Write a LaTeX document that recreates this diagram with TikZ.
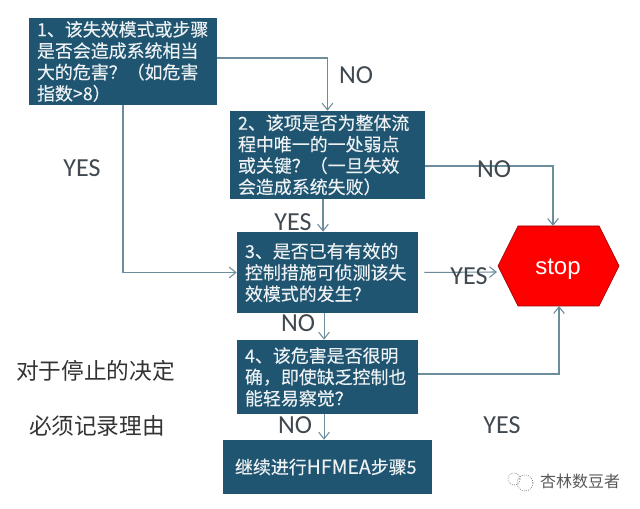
\documentclass[tikz,border=0pt]{standalone}
\usepackage{fontspec}
\setmainfont{Noto Sans CJK SC}
\newfontfamily\boxfont[FakeBold=0.25]{Noto Sans CJK SC}
\newfontfamily\latinlabel{Carlito}
\newfontfamily\stopfont{Liberation Sans}
\usetikzlibrary{arrows.meta}
\definecolor{boxblue}{HTML}{1F5570}
\definecolor{linkc}{HTML}{6C8D9C}
\definecolor{labelc}{HTML}{404850}
\tikzset{
  every node/.style={inner sep=0pt},
  stepbox/.style={fill=boxblue,text=white!92!boxblue,align=left,anchor=center,
    font=\boxfont\fontsize{13.45}{16}\selectfont,inner xsep=6pt},
  link/.style={draw=linkc,line width=0.8pt,-{Straight Barb[length=5pt,width=8pt]}},
  lab/.style={text=labelc,font=\latinlabel\fontsize{19.5}{20}\selectfont},
  note/.style={text=black!80,font=\fontsize{17}{18}\selectfont},
}
\begin{document}
\begin{tikzpicture}[x=0.75pt,y=-0.75pt]
\useasboundingbox[fill=white] (0,0) rectangle (640,509);
\node[stepbox,minimum width=141pt,minimum height=65.25pt,text width=129pt] (b1) at (123,61.5)
  {1、该失效模式或步骤\\是否会造成系统相当\\大的危害？（如危害\\指数>8）};
\node[stepbox,minimum width=146.25pt,minimum height=66pt,text width=134.25pt] (b2) at (327.5,155)
  {2、该项是否为整体流\\程中唯一的一处弱点\\或关键？（一旦失效\\会造成系统失败）};
\node[stepbox,minimum width=135.75pt,minimum height=60.75pt,text width=123.75pt] (b3) at (327.5,272.5)
  {3、是否已有有效的\\控制措施可侦测该失\\效模式的发生？};
\node[stepbox,minimum width=135.75pt,minimum height=55.5pt,text width=123.75pt] (b4) at (327.5,377)
  {4、该危害是否很明\\确，即使缺乏控制也\\能轻易察觉？};
\node[stepbox,minimum width=156.75pt,minimum height=40.5pt,text width=144.75pt,inner xsep=6pt] (b5) at (327.5,467)
  {\hspace{3pt}继续进行{\fontsize{14.6}{16}\selectfont HFMEA}步骤5};
\path[fill=red,draw=red!60!black,line width=0.5pt]
  (498,266) -- (518,226) -- (599,226)
  -- (619,266) -- (599,306) -- (518,306) -- cycle;
\node[text=white,font=\stopfont\fontsize{18}{20}\selectfont] (stopt) at (558,269) {stop};
\coordinate (stoptop) at (553,226);
\coordinate (stopbot) at (559,306);
\coordinate (stopleft) at (497,272);
% connectors
\draw[link] ([yshift=2.6pt]b1.east) -| (b2.north);
\draw[link] (b1.south) |- (b3.west);
\draw[link] ([yshift=-8.25pt]b2.east) -| (stoptop);
\draw[link] ([xshift=-3.4pt]b2.south) -- ([xshift=-3.4pt]b3.north);
\draw[link,shorten <=4.5pt] (b3.east) -- (stopleft);
\draw[link] ([xshift=-2.6pt]b3.south) -- ([xshift=-2.6pt]b4.north);
\draw[link] ([yshift=2.25pt]b4.east) -| (stopbot);
\draw[link] ([xshift=-2.6pt]b4.south) -- ([xshift=-2.6pt]b5.north);
% labels
\node[lab] (n1) at (356,75) {NO};
\node[lab] (y1) at (82,168) {YES};
\node[lab] (n2) at (494,169) {NO};
\node[lab] (y2) at (293,222) {YES};
\node[lab] (y3) at (469,276) {YES};
\node[lab] (n3) at (298,323) {NO};
\node[lab] (n4) at (295,425) {NO};
\node[lab] (y4) at (502,425) {YES};
\node[note] (t1) at (95.5,371) {对于停止的决定};
\node[note] (t2) at (97,426) {必须记录理由};
% watermark
\draw[black!45,line width=0.6pt,densely dotted] (514,479) circle[radius=6];
\draw[black!45,line width=0.6pt,densely dotted] (525,483) circle[radius=8];
\node[text=black!65,font=\fontsize{12}{14}\selectfont] (wm) at (580,481) {杏林数豆者};
\end{tikzpicture}
\end{document}
